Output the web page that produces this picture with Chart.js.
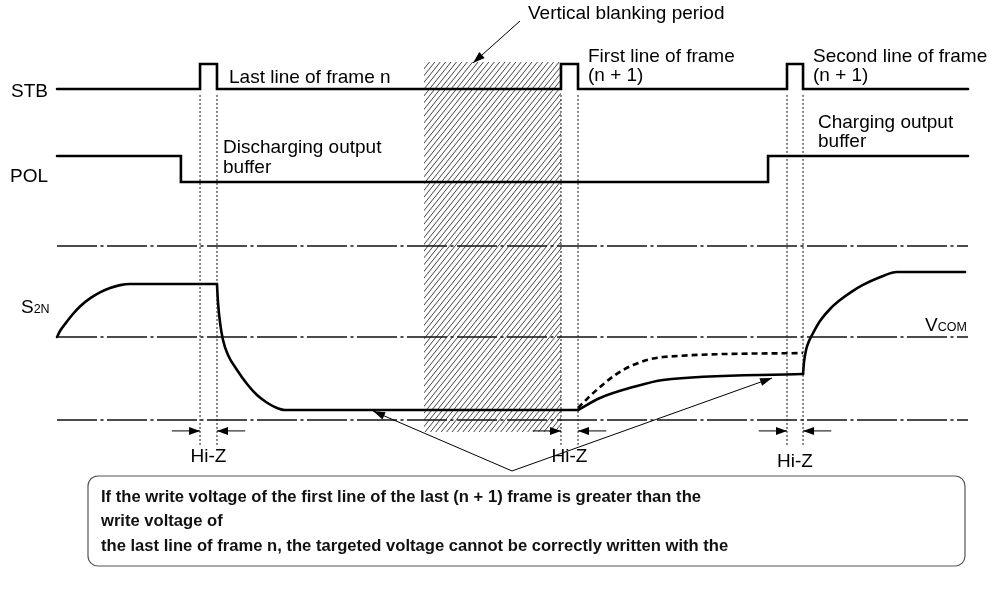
<!DOCTYPE html>
<html><head><meta charset="utf-8">
<script src="https://cdn.jsdelivr.net/npm/chart.js@4/dist/chart.umd.min.js"></script>
<style>html,body{margin:0;padding:0;background:#fff}#wrap{width:998px;height:594px;position:relative}</style>
</head><body><div id="wrap"><canvas id="c"></canvas></div>
<script>
// ---- DATA (time in arbitrary units: 0 = start of traces, 100 = end) ----
const stbTimes  = [0, 15.70, 17.56, 55.32, 57.19, 80.13, 81.89, 100];
const stbLevels = [0, 1, 0, 1, 0, 1, 0, 0];
const polTimes  = [0, 13.6, 78.05, 100];
const polLevels = [1, 0, 1, 1];
// S2N output voltage (relative to VCOM = 0)
const riseT  = [0, 0.33, 0.88, 1.65, 2.52, 3.62, 4.72, 5.82, 6.92, 8.01, 17.56];
const riseV  = [0, 0.33, 0.71, 1.21, 1.68, 2.12, 2.45, 2.69, 2.85, 2.91, 2.91];
const fallT  = [17.56, 17.67, 17.89, 18.22, 18.77, 19.76, 20.86, 21.95, 22.94, 23.93, 25.03, 57.19];
const fallV  = [2.91, 1.92, 0.82, -0.16, -0.99, -1.81, -2.58, -3.19, -3.57, -3.85, -4.01, -4.01];
const firstT = [57.19, 59.6, 63.23, 66.52, 81.89];
const firstV = [-4.01, -3.35, -2.75, -2.36, -2.03];
const secondT = [81.89, 82.00, 82.22, 82.55, 82.99, 83.75, 84.85, 85.95, 87.16, 88.47, 90.12, 92.21, 99.67];
const secondV = [-2.03, -1.37, -0.71, -0.22, 0.22, 0.88, 1.54, 2.03, 2.47, 2.86, 3.24, 3.57, 3.57];
const idealT = [57.19, 58.51, 59.6, 61.25, 63.23, 66.52, 81.89];
const idealV = [-3.90, -3.24, -2.75, -2.09, -1.54, -1.10, -0.88];
const refLevels = [5.0, 0, -4.56];
const blankStart = 40.29, blankEnd = 55.32;

const sigLabels = ['STB', 'POL'];
const noteLines = [
  'If the write voltage of the first line of the last (n + 1) frame is greater than the',
  'write voltage of',
  'the last line of frame n, the targeted voltage cannot be correctly written with the'
];

// ---- build ----
const pts = (ts, vs) => ts.map((t, i) => ({x: t, y: vs[i]}));
const pulses = [];
for (let i = 0; i < stbLevels.length - 1; i++) if (stbLevels[i] === 1) pulses.push([stbTimes[i], stbTimes[i + 1]]);

const datasets = [];
const solid = {borderColor: '#000', borderWidth: 2.6, pointRadius: 0, fill: false, borderCapStyle: 'round', borderJoinStyle: 'miter'};
refLevels.forEach(v => datasets.push({data: [{x: 0, y: v}, {x: 100, y: v}], yAxisID: 'y', borderColor: '#111', borderWidth: 1.3, borderDash: [40, 3.5, 3, 3.5], pointRadius: 0}));
pulses.forEach(p => p.forEach(t => datasets.push({data: [{x: t, y: 13.3}, {x: t, y: -5.93}], yAxisID: 'y', borderColor: '#111', borderWidth: 1, borderDash: [2, 2], pointRadius: 0})));
datasets.push(Object.assign({data: pts(stbTimes, stbLevels), yAxisID: 'yStb', stepped: 'before'}, solid));
datasets.push(Object.assign({data: pts(polTimes, polLevels), yAxisID: 'yPol', stepped: 'before'}, solid));
[[riseT, riseV], [fallT, fallV], [firstT, firstV], [secondT, secondV]].forEach(([t, v]) =>
  datasets.push(Object.assign({data: pts(t, v), yAxisID: 'y', cubicInterpolationMode: 'monotone'}, solid)));
datasets.push(Object.assign({data: pts(idealT, idealV), yAxisID: 'y', cubicInterpolationMode: 'monotone'}, solid, {borderDash: [6, 4], borderCapStyle: 'butt'}));

const FONT = '"Liberation Sans", Arial, sans-serif';
function arrow(ctx, x1, y1, x2, y2, len, w) {
  ctx.beginPath(); ctx.moveTo(x1, y1); ctx.lineTo(x2, y2); ctx.stroke();
  const a = Math.atan2(y2 - y1, x2 - x1);
  ctx.beginPath();
  ctx.moveTo(x2, y2);
  ctx.lineTo(x2 - len * Math.cos(a) + w * Math.sin(a), y2 - len * Math.sin(a) - w * Math.cos(a));
  ctx.lineTo(x2 - len * Math.cos(a) - w * Math.sin(a), y2 - len * Math.sin(a) + w * Math.cos(a));
  ctx.closePath(); ctx.fill();
}

const diagram = {
  id: 'diagram',
  beforeDatasetsDraw(chart) {
    const {ctx, scales: {x, y}} = chart;
    const x0 = x.getPixelForValue(blankStart), x1 = x.getPixelForValue(blankEnd);
    const y0 = y.getPixelForValue(15.11), y1 = y.getPixelForValue(-5.22);
    ctx.save();
    ctx.fillStyle = '#fff'; ctx.fillRect(x0, y0, x1 - x0, y1 - y0);
    ctx.beginPath(); ctx.rect(x0, y0, x1 - x0, y1 - y0); ctx.clip();
    ctx.strokeStyle = '#222'; ctx.lineWidth = 0.85;
    const h = y1 - y0, dx = h * 0.8;
    ctx.beginPath();
    for (let k = x0 - dx; k < x1 + 5; k += 5.4) { ctx.moveTo(k, y1); ctx.lineTo(k + dx, y0); }
    ctx.stroke();
    ctx.restore();
  },
  afterDatasetsDraw(chart) {
    const {ctx, scales: {x, y}} = chart;
    ctx.save();
    ctx.fillStyle = '#000'; ctx.strokeStyle = '#000';
    ctx.textBaseline = 'alphabetic'; ctx.textAlign = 'left';
    ctx.font = '19px ' + FONT;
    ctx.fillText(sigLabels[0], 11, 97);
    ctx.fillText(sigLabels[1], 10, 182);
    ctx.fillText('S', 21, 313);
    let w = ctx.measureText('S').width;
    ctx.fillText('V', 925, 331);
    let wv = ctx.measureText('V').width;
    ctx.font = '12.5px ' + FONT;
    ctx.fillText('2N', 21 + w, 313);
    ctx.fillText('COM', 925 + wv, 331);
    ctx.font = '19px ' + FONT;
    ctx.fillText('Last line of frame n', 229, 83);
    ctx.fillText('Discharging output', 223, 153);
    ctx.fillText('buffer', 223, 173);
    ctx.fillText('First line of frame', 588, 62);
    ctx.fillText('(n + 1)', 588, 81);
    ctx.fillText('Second line of frame', 813, 62);
    ctx.fillText('(n + 1)', 813, 81);
    ctx.fillText('Charging output', 818, 128);
    ctx.fillText('buffer', 818, 147);
    ctx.fillText('Vertical blanking period', 528, 19);
    // Hi-Z markers
    ctx.lineWidth = 1;
    const ya = y.getPixelForValue(-5.16);
    const hzBase = [462, 462, 467];
    pulses.forEach((p, i) => {
      const a = x.getPixelForValue(p[0]), b = x.getPixelForValue(p[1]);
      arrow(ctx, x.getPixelForValue(p[0] - 3.1), ya, a, ya, 11, 4);
      arrow(ctx, x.getPixelForValue(p[1] + 3.1), ya, b, ya, 11, 4);
      ctx.textAlign = 'center';
      ctx.fillText('Hi-Z', (a + b) / 2, hzBase[i]);
    });
    ctx.textAlign = 'left';
    // blanking leader
    arrow(ctx, 520, 21, 473, 63, 12, 4);
    // callout
    const ax = x.getPixelForValue(49.95), ay = y.getPixelForValue(-7.36);
    arrow(ctx, ax, ay, x.getPixelForValue(34.69), y.getPixelForValue(-4.07), 12, 4);
    arrow(ctx, ax, ay, x.getPixelForValue(78.49), y.getPixelForValue(-2.25), 12, 4);
    // note box
    ctx.fillStyle = '#fff';
    ctx.strokeStyle = '#555'; ctx.lineWidth = 1.2;
    ctx.beginPath(); ctx.roundRect(88, 476, 877, 90, 10); ctx.fill(); ctx.stroke();
    ctx.fillStyle = '#111';
    ctx.font = 'bold 17px ' + FONT;
    const sx = 600 / ctx.measureText(noteLines[0]).width;
    [502, 526, 551].forEach((b, i) => {
      ctx.save(); ctx.translate(101, b); ctx.scale(sx, 1);
      ctx.fillText(noteLines[i], 0, 0); ctx.restore();
    });
    ctx.restore();
  }
};

new Chart(document.getElementById('c'), {
  type: 'line',
  data: {datasets},
  options: {
    responsive: true, maintainAspectRatio: false, animation: false,
    layout: {padding: 0},
    plugins: {legend: {display: false}, tooltip: {enabled: false}},
    scales: {
      x: {type: 'linear', min: -6.257, max: 103.29, display: false},
      y: {type: 'linear', min: -14.12, max: 18.516, display: false},
      yStb: {type: 'linear', min: -20.2, max: 3.56, display: false},
      yPol: {type: 'linear', min: -15.846, max: 7.0, display: false}
    }
  },
  plugins: [diagram]
});
</script></body></html>
